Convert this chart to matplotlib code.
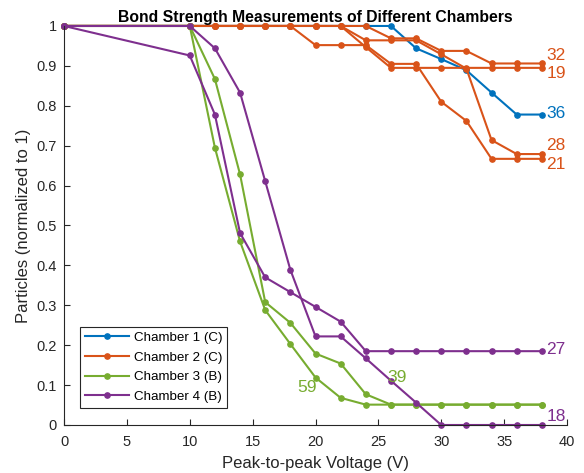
import numpy as np
import matplotlib.pyplot as plt
from matplotlib.ticker import FuncFormatter

plt.rcParams['font.family'] = ['Liberation Sans', 'DejaVu Sans']

# voltages (V)
volts = [0, 10, 12, 14, 16, 18, 20, 22, 24, 26, 28, 30, 32, 34, 36, 38]

# Chamber 1 (C)
ch1_36 = [1, 1, 1, 1, 1, 1, 1, 1, 1, 1, 0.944, 0.917, 0.889, 0.833, 0.778, 0.778]

# Chamber 2 (C)
ch2_32 = [1, 1, 1, 1, 1, 1, 1, 1, 1, 0.969, 0.969, 0.9375, 0.9375, 0.906, 0.906, 0.906]
ch2_19 = [1, 1, 1, 1, 1, 1, 1, 1, 0.947, 0.895, 0.895, 0.895, 0.895, 0.895, 0.895, 0.895]
ch2_28 = [1, 1, 1, 1, 1, 1, 1, 1, 0.964, 0.964, 0.964, 0.929, 0.893, 0.714, 0.679, 0.679]
ch2_21 = [1, 1, 1, 1, 1, 1, 0.952, 0.952, 0.952, 0.905, 0.905, 0.810, 0.762, 0.667, 0.667, 0.667]

# Chamber 3 (B)
ch3_59 = [1, 1, 0.695, 0.46, 0.288, 0.203, 0.119, 0.068, 0.051, 0.051, 0.051, 0.051, 0.051, 0.051, 0.051, 0.051]
ch3_39 = [1, 1, 0.867, 0.628, 0.308, 0.256, 0.179, 0.154, 0.077, 0.051, 0.051, 0.051, 0.051, 0.051, 0.051, 0.051]

# Chamber 4 (B)
ch4_27 = [1, 0.926, 0.778, 0.481, 0.370, 0.333, 0.296, 0.259, 0.185, 0.185, 0.185, 0.185, 0.185, 0.185, 0.185, 0.185]
ch4_18 = [1, 1, 0.944, 0.833, 0.611, 0.389, 0.222, 0.222, 0.167, 0.111, 0.056, 0, 0, 0, 0, 0]

colors = {1: '#0072BD', 2: '#D95319', 3: '#77AC30', 4: '#7E2F8E'}

series = [
    (1, ch1_36, '36'),
    (2, ch2_32, '32'), (2, ch2_19, '19'), (2, ch2_28, '28'), (2, ch2_21, '21'),
    (3, ch3_59, '59'), (3, ch3_39, '39'),
    (4, ch4_27, '27'), (4, ch4_18, '18'),
]
legend_names = {1: 'Chamber 1 (C)', 2: 'Chamber 2 (C)', 3: 'Chamber 3 (B)', 4: 'Chamber 4 (B)'}

fig = plt.figure(figsize=(5.84, 4.73), dpi=100)
ax = fig.add_axes([0.1096, 0.1015, 0.8613, 0.8436])

done = set()
for ch, vals, n in series:
    lab = legend_names[ch] if ch not in done else None
    done.add(ch)
    ax.plot(volts, vals, '-o', color=colors[ch], lw=1.5, ms=3.8, label=lab, clip_on=False)

# particle count labels at the line ends
end_labels = [('32', 0.925, 2), ('19', 0.88, 2), ('36', 0.78, 1), ('28', 0.70, 2),
              ('21', 0.652, 2), ('27', 0.188, 4), ('18', 0.022, 4)]
for txt, yv, ch in end_labels:
    ax.text(38.35, yv, txt, color=colors[ch], fontsize=12.5, va='center', ha='left')
ax.text(19.3, 0.095, '59', color=colors[3], fontsize=12.5, va='center', ha='center')
ax.text(26.5, 0.12, '39', color=colors[3], fontsize=12.5, va='center', ha='center')

ax.set_xlim(0, 40)
ax.set_ylim(0, 1)
ax.set_xticks(np.arange(0, 41, 5))
ax.set_yticks(np.arange(0, 1.01, 0.1))
ax.yaxis.set_major_formatter(FuncFormatter(lambda v, p: '%g' % round(v, 1)))

for s in ['top', 'right']:
    ax.spines[s].set_visible(False)
for s in ['left', 'bottom']:
    ax.spines[s].set_color('#262626')
    ax.spines[s].set_linewidth(0.8)
ax.tick_params(direction='in', length=4, width=0.8, colors='#262626', labelsize=10.5)
ax.tick_params(axis='x', pad=7)
ax.tick_params(axis='y', pad=5)

ax.set_xlabel('Peak-to-peak Voltage (V)', fontsize=12, color='#262626', labelpad=5)
ax.set_ylabel('Particles (normalized to 1)', fontsize=12, color='#262626', labelpad=4)
ax.set_title('Bond Strength Measurements of Different Chambers', fontsize=11.3,
             fontweight='bold', pad=3)

leg = ax.legend(loc='lower left', bbox_to_anchor=(0.032, 0.043), fontsize=9.6,
                fancybox=False, framealpha=1, edgecolor='#262626',
                handlelength=3.3, handletextpad=0.4, borderpad=0.35, labelspacing=0.55,
                borderaxespad=0)
leg.get_frame().set_linewidth(0.8)

fig.savefig('out.png', dpi=100)
